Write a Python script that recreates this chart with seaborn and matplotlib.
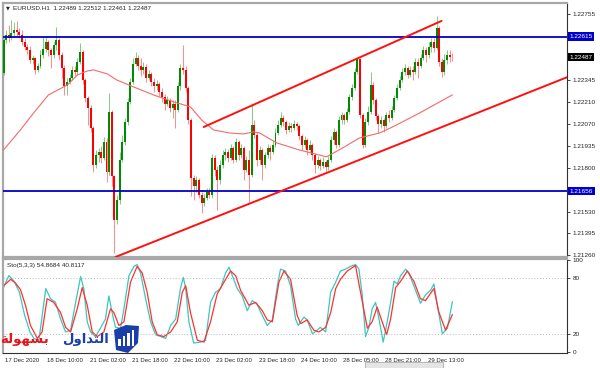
import numpy as np
import matplotlib
matplotlib.use("Agg")
import matplotlib.pyplot as plt
import matplotlib.transforms as mtransforms
from matplotlib.patches import Rectangle, Polygon
import seaborn as sns

# EURUSD H1 candles (open = previous close)
first_open = 1.22389
closes = [
    1.22594, 1.22625, 1.22606, 1.22637, 1.22656, 1.22644, 1.22625, 1.22582, 1.22551, 1.22532,
    1.22470, 1.22482, 1.22408, 1.22433, 1.22501, 1.22538, 1.22582, 1.22532, 1.22501, 1.22563,
    1.22594, 1.22501, 1.22420, 1.22309, 1.22334, 1.22358, 1.22408, 1.22396, 1.22458, 1.22520,
    1.22346, 1.22234, 1.22172, 1.22048, 1.21819, 1.21881, 1.21900, 1.21862, 1.21962, 1.21776,
    1.22148, 1.21751, 1.21478, 1.21602, 1.21850, 1.21962, 1.22086, 1.22210, 1.22334, 1.22445,
    1.22482, 1.22433, 1.22408, 1.22427, 1.22358, 1.22383, 1.22334, 1.22309, 1.22321, 1.22272,
    1.22241, 1.22197, 1.22222, 1.22172, 1.22197, 1.22160, 1.22309, 1.22420, 1.22408, 1.22296,
    1.22098, 1.21738, 1.21689, 1.21726, 1.21633, 1.21583, 1.21614, 1.21652, 1.21633, 1.21862,
    1.21788, 1.21726, 1.21819, 1.21881, 1.21900, 1.21862, 1.21924, 1.21850, 1.21962, 1.21881,
    1.21924, 1.21788, 1.21850, 1.21757, 1.22067, 1.22005, 1.21850, 1.21912, 1.21819, 1.21881,
    1.21924, 1.21900, 1.21943, 1.22017, 1.22067, 1.22110, 1.22086, 1.22036, 1.22060, 1.22048,
    1.22073, 1.22060, 1.21999, 1.21943, 1.21974, 1.21912, 1.21943, 1.21881, 1.21819, 1.21850,
    1.21813, 1.21838, 1.21807, 1.21850, 1.21974, 1.22024, 1.21943, 1.22098, 1.22129, 1.22098,
    1.22148, 1.22241, 1.22296, 1.22396, 1.22476, 1.22129, 1.21943, 1.22086, 1.22148, 1.22315,
    1.22222, 1.22123, 1.22073, 1.22098, 1.22060, 1.22129, 1.22110, 1.22160, 1.22234, 1.22296,
    1.22346, 1.22396, 1.22420, 1.22377, 1.22408, 1.22396, 1.22458, 1.22433, 1.22482, 1.22532,
    1.22501, 1.22551, 1.22582, 1.22544, 1.22668, 1.22458, 1.22396, 1.22470, 1.22501, 1.22489,
    1.22487,
]
highs = [
    1.22606, 1.22656, 1.22687, 1.22718, 1.22706, 1.22712, 1.22668, 1.22656, 1.22606, 1.22569,
    1.22557, 1.22501, 1.22489, 1.22451, 1.22532, 1.22613, 1.22613, 1.22594, 1.22544, 1.22582,
    1.22675, 1.22606, 1.22520, 1.22439, 1.22358, 1.22383, 1.22433, 1.22433, 1.22482, 1.22575,
    1.22532, 1.22358, 1.22247, 1.22191, 1.22060, 1.21912, 1.21924, 1.21937, 1.21993, 1.21986,
    1.22265, 1.22160, 1.21757, 1.21633, 1.21900, 1.22005, 1.22110, 1.22234, 1.22358, 1.22482,
    1.22520, 1.22501, 1.22482, 1.22458, 1.22445, 1.22408, 1.22396, 1.22358, 1.22346, 1.22334,
    1.22296, 1.22259, 1.22247, 1.22234, 1.22222, 1.22222, 1.22334, 1.22445, 1.22563, 1.22433,
    1.22309, 1.22110, 1.21757, 1.21751, 1.21738, 1.21652, 1.21639, 1.21676, 1.21676, 1.21887,
    1.21881, 1.21813, 1.21850, 1.21912, 1.21924, 1.21918, 1.21949, 1.21937, 1.21986, 1.21974,
    1.21949, 1.21937, 1.21875, 1.21912, 1.22203, 1.22098, 1.22024, 1.21937, 1.21924, 1.21900,
    1.21949, 1.21943, 1.21974, 1.22048, 1.22098, 1.22148, 1.22129, 1.22098, 1.22086, 1.22079,
    1.22098, 1.22086, 1.22073, 1.22011, 1.21999, 1.21986, 1.21974, 1.21956, 1.21894, 1.21875,
    1.21862, 1.21869, 1.21850, 1.21875, 1.21999, 1.22048, 1.22036, 1.22123, 1.22148, 1.22141,
    1.22172, 1.22259, 1.22321, 1.22420, 1.22489, 1.22482, 1.22141, 1.22110, 1.22185, 1.22396,
    1.22334, 1.22234, 1.22135, 1.22123, 1.22110, 1.22148, 1.22160, 1.22185, 1.22253, 1.22321,
    1.22371, 1.22420, 1.22445, 1.22433, 1.22433, 1.22433, 1.22482, 1.22482, 1.22507, 1.22557,
    1.22551, 1.22582, 1.22606, 1.22606, 1.22743, 1.22681, 1.22482, 1.22507, 1.22532, 1.22532,
    1.22512,
]
lows = [
    1.22377, 1.22575, 1.22582, 1.22594, 1.22613, 1.22619, 1.22606, 1.22563, 1.22532, 1.22507,
    1.22451, 1.22445, 1.22383, 1.22396, 1.22420, 1.22482, 1.22520, 1.22495, 1.22420, 1.22482,
    1.22532, 1.22470, 1.22358, 1.22253, 1.22253, 1.22321, 1.22346, 1.22371, 1.22383, 1.22445,
    1.22321, 1.22210, 1.22067, 1.22024, 1.21776, 1.21800, 1.21838, 1.21831, 1.21850, 1.21714,
    1.21757, 1.21689, 1.21273, 1.21453, 1.21577, 1.21838, 1.21943, 1.22067, 1.22197, 1.22321,
    1.22433, 1.22408, 1.22371, 1.22383, 1.22334, 1.22346, 1.22309, 1.22272, 1.22284, 1.22247,
    1.22210, 1.22160, 1.22185, 1.22148, 1.22110, 1.22048, 1.22148, 1.22284, 1.22383, 1.22272,
    1.22073, 1.21627, 1.21602, 1.21652, 1.21614, 1.21521, 1.21565, 1.21602, 1.21614, 1.21614,
    1.21751, 1.21540, 1.21701, 1.21800, 1.21850, 1.21838, 1.21850, 1.21831, 1.21838, 1.21850,
    1.21862, 1.21726, 1.21776, 1.21590, 1.21745, 1.21986, 1.21813, 1.21825, 1.21726, 1.21800,
    1.21862, 1.21850, 1.21887, 1.21931, 1.22005, 1.22054, 1.22060, 1.22011, 1.22024, 1.22024,
    1.22036, 1.22036, 1.21974, 1.21912, 1.21924, 1.21881, 1.21900, 1.21850, 1.21769, 1.21800,
    1.21788, 1.21800, 1.21776, 1.21788, 1.21838, 1.21949, 1.21924, 1.21931, 1.22073, 1.22073,
    1.22086, 1.22135, 1.22222, 1.22284, 1.22383, 1.22110, 1.21924, 1.21931, 1.22067, 1.22135,
    1.22197, 1.22098, 1.22017, 1.22048, 1.22024, 1.22048, 1.22086, 1.22098, 1.22148, 1.22222,
    1.22284, 1.22334, 1.22377, 1.22358, 1.22365, 1.22346, 1.22383, 1.22358, 1.22420, 1.22470,
    1.22458, 1.22482, 1.22520, 1.22520, 1.22532, 1.22433, 1.22365, 1.22377, 1.22445, 1.22458,
    1.22461,
]

# moving average (thin red line), read at a few bars
ma_bars = [0, 6.4, 11.4, 17, 24.2, 28, 31.8, 34.1, 39.4, 42.8, 49.2, 56.8, 64.4, 70.8, 75,
           79.5, 85.6, 90.9, 94.7, 97, 103.4, 112, 122.3, 128.4, 134.8, 142.4, 147.3, 157.6,
           165.2, 170]
ma_vals = [1.21912, 1.22036, 1.22141, 1.22253, 1.22315, 1.22377, 1.22402, 1.22408, 1.22383,
           1.22346, 1.22303, 1.22253, 1.22210, 1.22179, 1.22098, 1.22036, 1.22017, 1.22011,
           1.22024, 1.22017, 1.21956, 1.21912, 1.21869, 1.21924, 1.21986, 1.22017, 1.22054,
           1.22141, 1.22210, 1.22253]

# horizontal levels and channel lines
levels = [1.22615, 1.21656]
lower_line_bars = [42.4, 213.6]
lower_line_prices = [1.21248, 1.22364]
upper_line_bars = [75.8, 165.9]
upper_line_prices = [1.22054, 1.22712]

# Stochastic (5,3,3)
k_bars = [0, 2, 4, 6, 8, 10, 11.5, 13.4, 16, 17.8, 19.7, 21.6, 23.5, 25.4, 27.3, 29.2, 30.4,
          31.7, 33, 34.8, 36.7, 38.6, 39.9, 41.2, 42.4, 44.3, 45.6, 47.5, 49.4, 50.6, 51.9,
          53.8, 55.7, 57.6, 59.5, 61.4, 63.3, 65.2, 67, 68.1, 69, 70.2, 72, 74.6, 76.5, 78.4,
          80.3, 82.2, 84.1, 85.4, 87.2, 88.5, 90.4, 92.3, 94.2, 96, 98, 99.9, 101.8, 103.7,
          104.9, 106.8, 108.7, 110.6, 111.6, 112.5, 113.8, 115, 117, 118.8, 120, 122, 123.9,
          125.8, 127.6, 129.5, 131.4, 133.3, 134.6, 135.9, 137.1, 138.4, 139.6, 140.9, 142.2,
          143.8, 145.3, 146.6, 147.9, 149.1, 150.4, 152.3, 153.5, 155.4, 157.9, 159.8, 161.7,
          163, 164.3, 166.2, 168.1, 170]
k_vals = [70, 83, 77, 65, 40, 22, 15, 13, 69, 58, 54, 36, 22, 24, 54, 82, 69, 33, 22, 17,
          26, 36, 61, 42, 27, 26, 47, 83, 93, 95, 86, 58, 33, 19, 17, 15, 29, 36, 69, 81,
          69, 33, 10, 11, 13, 54, 65, 69, 86, 92, 79, 69, 61, 45, 56, 52, 40, 29, 35, 72,
          90, 88, 72, 36, 29, 33, 38, 35, 20, 24, 27, 22, 65, 76, 88, 90, 93, 95, 90, 61,
          17, 27, 47, 54, 36, 11, 33, 54, 77, 74, 83, 90, 86, 72, 53, 62, 67, 74, 51, 20,
          26, 54.87]
d_bars = [0, 2.7, 4.5, 6.4, 8.3, 10.2, 12.8, 14.6, 16.5, 19, 21.6, 23.5, 25.4, 27.9, 29.8,
          31.7, 33.6, 35.5, 38, 40.5, 41.8, 43.7, 45.6, 48.1, 50.6, 52.5, 54.4, 56.3, 58.2,
          60.7, 63.3, 65.8, 67.7, 69, 70.8, 73.4, 75.9, 78.4, 80.9, 83.5, 86, 87.9, 89.8,
          92.9, 95.5, 98, 99.9, 101.8, 104.3, 106.2, 108.7, 111.2, 112.5, 115, 117.5, 119.4,
          122, 123.9, 125.8, 127.6, 130.2, 133.3, 135.2, 137.8, 139.6, 141.5, 143.4, 145.1,
          146.6, 148.5, 150.4, 152.9, 155.4, 157.9, 159.8, 163, 164.8, 167.4, 170]
d_vals = [72, 79, 75, 68, 51, 29, 15, 22, 58, 54, 43, 27, 22, 47, 70, 51, 22, 17, 22, 47,
          43, 29, 33, 76, 93, 86, 65, 33, 19, 17, 22, 33, 65, 72, 43, 13, 11, 33, 63, 76,
          88, 83, 67, 51, 54, 45, 35, 33, 76, 88, 79, 40, 31, 35, 24, 22, 27, 43, 69, 79,
          88, 94, 65, 26, 33, 49, 33, 19, 36, 70, 77, 88, 77, 58, 56, 69, 44, 24, 40.81]

price_ticks = [1.22755, 1.22345, 1.22210, 1.22070, 1.21935, 1.21800, 1.21530, 1.21395, 1.21260]
date_ticks = [0, 16, 32, 48, 64, 80, 96, 112, 128, 144, 160]
date_labels = ["17 Dec 2020", "18 Dec 10:00", "21 Dec 02:00", "21 Dec 18:00", "22 Dec 10:00",
               "23 Dec 02:00", "23 Dec 18:00", "24 Dec 10:00", "28 Dec 05:00", "28 Dec 21:00",
               "29 Dec 13:00"]
stoch_ticks = [100, 80, 20, 0]

sns.set_style("white")
plt.rcParams["font.family"] = ["Liberation Sans", "DejaVu Sans"]

W, H = 600, 368
fig = plt.figure(figsize=(6, 3.68), dpi=100)
fig.patch.set_facecolor("white")


def px_axes(x0, y0, x1, y1):
    return fig.add_axes([x0 / W, 1 - y1 / H, (x1 - x0) / W, (y1 - y0) / H])


def px(xp, yp):
    return (xp / W, 1 - yp / H)


ax = px_axes(3, 3, 567, 257)
ax2 = px_axes(3, 259, 567, 353)

# candles
opens = [first_open] + closes[:-1]
o = np.array(opens)
c = np.array(closes)
hi = np.array(highs)
lo = np.array(lows)
x = np.arange(len(c))
up = c >= o
body_col = np.where(up, "#008c00", "#ff0000")
wick_col = np.where(up, "#86c986", "#ff8a8a")
ax.vlines(x, lo, hi, colors=wick_col, lw=0.7, zorder=2)
ax.bar(x, np.maximum(np.abs(c - o), 0.00004), bottom=np.minimum(o, c), width=0.75,
       color=body_col, linewidth=0, zorder=3)

sns.lineplot(x=ma_bars, y=ma_vals, ax=ax, color="#f46a6a", lw=0.8, estimator=None, zorder=4)
for lv in levels:
    ax.axhline(lv, color="#0000c8", lw=1.3, zorder=5)
ax.plot(lower_line_bars, lower_line_prices, color="#ff1010", lw=1.4, zorder=6)
ax.plot(upper_line_bars, upper_line_prices, color="#ff1010", lw=1.4, zorder=6)

ax.set_xlim(-0.2, 213.4)
ax.set_ylim(1.21248, 1.22823)
ax.set_xticks([])
ax.yaxis.tick_right()
ax.set_yticks(price_ticks)
ax.set_yticklabels([f"{p:.5f}" for p in price_ticks])
ax.tick_params(axis="y", length=2.5, width=0.6, pad=1.5, labelsize=4.6, direction="out")
ax.set_xlabel("")
ax.set_ylabel("")

tr = mtransforms.blended_transform_factory(ax.transAxes, ax.transData)
for val, fc in [(1.22615, "#0000cc"), (1.22487, "#000000"), (1.21656, "#0000cc")]:
    ax.text(1.0045, val, f"{val:.5f}", transform=tr, fontsize=4.6, color="white",
            va="center", ha="left",
            bbox=dict(boxstyle="square,pad=0.25", fc=fc, ec="none"))

# stochastic panel
sns.lineplot(x=k_bars, y=k_vals, ax=ax2, color="#3cc6bd", lw=0.9, estimator=None)
sns.lineplot(x=d_bars, y=d_vals, ax=ax2, color="#ff3030", lw=0.9, estimator=None)
for lv in (80, 20):
    ax2.axhline(lv, color="#b8b8b8", lw=0.7, ls=(0, (1, 2)))
ax2.set_xlim(-0.2, 213.4)
ax2.set_ylim(-0.8, 101)
ax2.yaxis.tick_right()
ax2.set_yticks(stoch_ticks)
ax2.set_yticklabels([str(t) for t in stoch_ticks])
ax2.tick_params(axis="y", length=2.5, width=0.6, pad=1.5, labelsize=4.6, direction="out")
ax2.set_xticks(date_ticks)
ax2.set_xticklabels(date_labels, ha="left")
ax2.tick_params(axis="x", length=3, width=0.6, pad=0.6, labelsize=4.3, direction="out")
shift = mtransforms.ScaledTranslation(1.5 / 100, 0, fig.dpi_scale_trans)
for lbl in ax2.get_xticklabels():
    lbl.set_transform(lbl.get_transform() + shift)
ax2.set_xlabel("")
ax2.set_ylabel("")

for a in (ax, ax2):
    a.spines["left"].set_color("#a8a8a8")
    a.spines["left"].set_linewidth(1.6)
    a.spines["top"].set_color("#a8a8a8")
    a.spines["top"].set_linewidth(1.6)
    a.spines["right"].set_color("#303030")
    a.spines["right"].set_linewidth(0.8)
ax.spines["bottom"].set_color("#a8a8a8")
ax.spines["bottom"].set_linewidth(1.6)
ax2.spines["bottom"].set_color("#303030")
ax2.spines["bottom"].set_linewidth(0.8)

# header texts
fig.text(6 / W, 1 - 8 / H, "\u25bc", fontsize=3.6, va="center", family="DejaVu Sans")
fig.text(13 / W, 1 - 8 / H, "EURUSD.H1  1.22489 1.22512 1.22461 1.22487", fontsize=4.6,
         va="center")
fig.text(7 / W, 1 - 265 / H, "Sto(5,3,3) 54.8684 40.8117", fontsize=4.6, va="center")

# watermark: logo + Arabic text (pre-shaped, visual order)
word_red = "\ufe94\ufedf\ufeee\ufeec\ufeb4\ufe91"
word_blue = "\ufedd\ufeed\ufe8d\ufeaa\ufe98\ufedf\ufe8d"
fig.text(0 / W, 1 - 339 / H, word_red, fontsize=9.5, color="#e8141c", fontweight="bold",
         va="center", family="DejaVu Sans")
fig.text(62 / W, 1 - 339 / H, word_blue, fontsize=9.5, color="#1a3fa8", fontweight="bold",
         va="center", family="DejaVu Sans")
shield = [(114, 330), (126, 325), (139, 326), (138, 343), (128, 353), (116, 350)]
fig.patches.append(Polygon([px(*p) for p in shield], closed=True, transform=fig.transFigure,
                           fc="#1a3fa8", ec="none"))
for i, hgt in enumerate([7, 10, 13, 16]):
    fig.patches.append(Rectangle(px(118 + i * 4.5, 346), 2.8 / W, hgt / H,
                                 transform=fig.transFigure, fc="white", ec="none"))

# scrollbar stub at the bottom
fig.patches.append(Rectangle((365 / W, 0), 78 / W, 6 / H, transform=fig.transFigure,
                             fc="#e4e4e4", ec="#b0b0b0", lw=0.6))

fig.savefig("out.png", dpi=100)
